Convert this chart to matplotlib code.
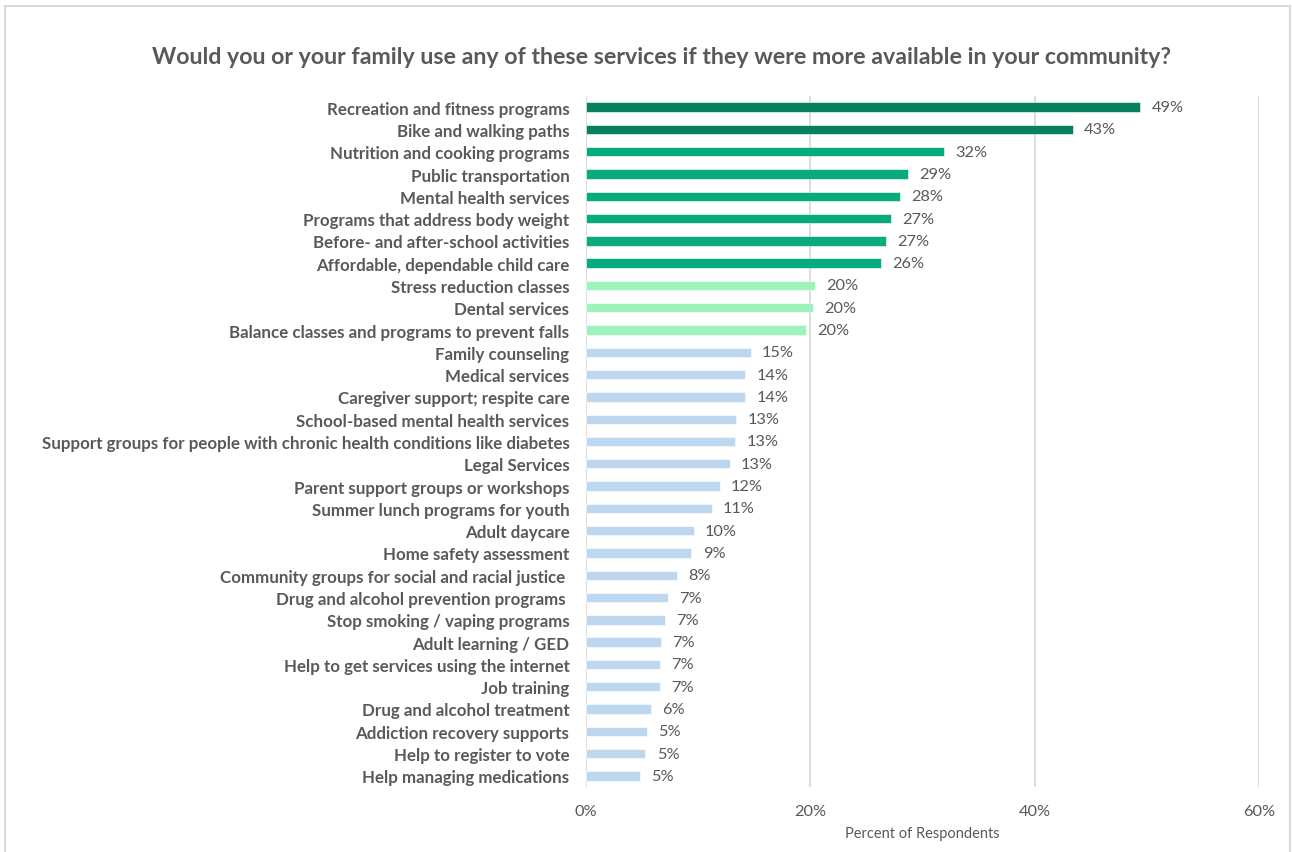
import matplotlib
matplotlib.use("Agg")

import matplotlib.pyplot as plt
from matplotlib.patches import Rectangle

plt.rcParams.update({"font.family": ["Lato", "DejaVu Sans"]})

# survey results, top to bottom as listed
services = [
    "Recreation and fitness programs",
    "Bike and walking paths",
    "Nutrition and cooking programs",
    "Public transportation",
    "Mental health services",
    "Programs that address body weight",
    "Before- and after-school activities",
    "Affordable, dependable child care",
    "Stress reduction classes",
    "Dental services",
    "Balance classes and programs to prevent falls",
    "Family counseling",
    "Medical services",
    "Caregiver support; respite care",
    "School-based mental health services",
    "Support groups for people with chronic health conditions like diabetes",
    "Legal Services",
    "Parent support groups or workshops",
    "Summer lunch programs for youth",
    "Adult daycare",
    "Home safety assessment",
    "Community groups for social and racial justice ",
    "Drug and alcohol prevention programs ",
    "Stop smoking / vaping programs",
    "Adult learning / GED",
    "Help to get services using the internet",
    "Job training",
    "Drug and alcohol treatment",
    "Addiction recovery supports",
    "Help to register to vote",
    "Help managing medications",
]
pct = [49.4, 43.4, 31.9, 28.7, 28.0, 27.2, 26.7, 26.3, 20.4, 20.2, 19.6,
       14.7, 14.2, 14.2, 13.4, 13.3, 12.8, 11.9, 11.2, 9.6, 9.4,
       8.1, 7.3, 7.0, 6.7, 6.6, 6.6, 5.8, 5.4, 5.3, 4.8]

# colour tiers by response share
tier_colors = ["#087f5f"] * 2 + ["#07ab7e"] * 6 + ["#9ef3bd"] * 3 + ["#bdd7ee"] * 20

x_ticks = [0, 20, 40, 60]
text_gray = "#595959"

fig = plt.figure(figsize=(12.92, 8.53), dpi=100)
ax = fig.add_axes([0.4536, 0.0762, 0.5209, 0.8101])

y_pos = list(range(len(services)))
ax.barh(y_pos, pct, height=0.42, color=tier_colors, edgecolor="white", linewidth=0.4, zorder=3)

for y, v in zip(y_pos, pct):
    ax.text(v + 1.0, y, f"{v:.0f}%", va="center", ha="left", fontsize=11.8, color=text_gray)

ax.set_ylim(len(services) - 0.5, -0.5)
ax.set_xlim(0, 60)
ax.set_yticks(y_pos)
ax.set_yticklabels(services, fontsize=12.15, fontweight="bold", color=text_gray)
ax.set_xticks(x_ticks)
ax.set_xticklabels([f"{t}%" for t in x_ticks], fontsize=11.8, color=text_gray)
ax.tick_params(axis="both", length=0)
ax.tick_params(axis="y", pad=12)
ax.tick_params(axis="x", pad=12)

ax.grid(axis="x", color="#d9d9d9", linewidth=1.3, zorder=0)
for s in ax.spines.values():
    s.set_visible(False)

ax.set_xlabel("Percent of Respondents", fontsize=10.5, color=text_gray, labelpad=6)

fig.suptitle("Would you or your family use any of these services if they were more available in your community?",
             x=0.512, y=0.945, fontsize=16.7, fontweight="bold", color=text_gray)

# chart frame
fig.patches.append(Rectangle((5 / 1292, -0.05), 1285 / 1292, 1 - 7 / 853 + 0.05,
                             transform=fig.transFigure, fill=False, edgecolor="#d9d9d9", linewidth=1.5))

fig.savefig("out.png", dpi=100)
